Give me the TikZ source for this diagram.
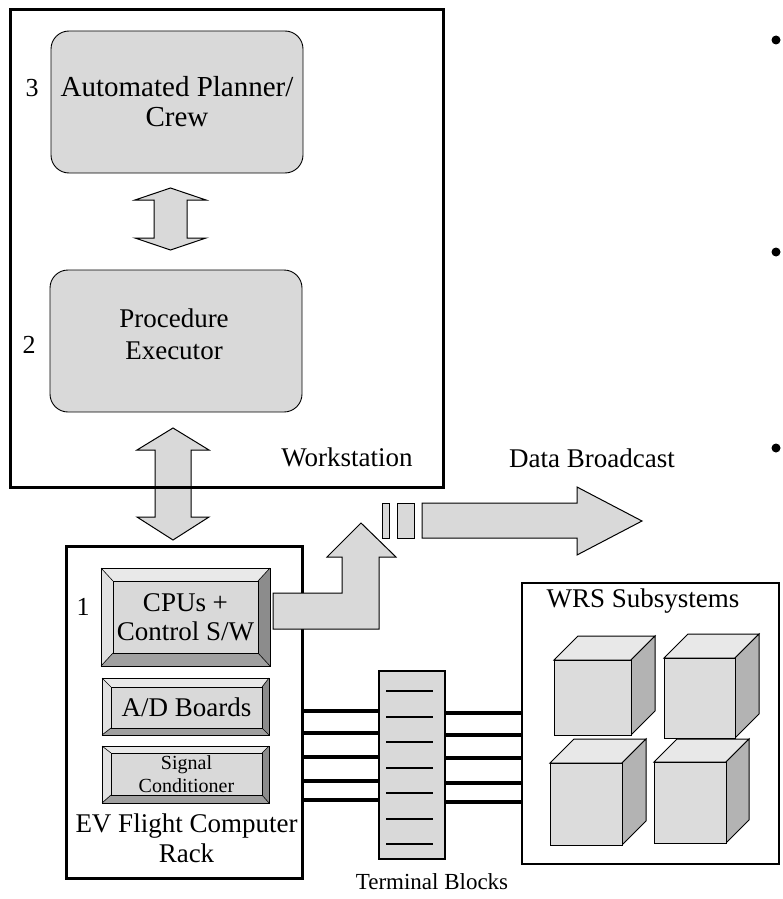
\documentclass[tikz,border=0pt]{standalone}
\usepackage{fontspec}
\setmainfont{Liberation Serif}
\definecolor{boxgray}{HTML}{D9D9D9}
\definecolor{bvtop}{HTML}{E9E9E9}
\definecolor{bvleft}{HTML}{E2E2E2}
\definecolor{bvright}{HTML}{8C8C8C}
\definecolor{bvbot}{HTML}{A0A0A0}
\definecolor{cubefront}{HTML}{DCDCDC}
\definecolor{cubetop}{HTML}{E8E8E8}
\definecolor{cubeside}{HTML}{B3B3B3}
\newcommand{\bevelbox}[8]{%
  \fill[bvtop] (#1,#2)--(#3,#2)--(#7,#6)--(#5,#6)--cycle;
  \fill[bvleft] (#1,#2)--(#5,#6)--(#5,#8)--(#1,#4)--cycle;
  \fill[bvright] (#3,#2)--(#3,#4)--(#7,#8)--(#7,#6)--cycle;
  \fill[bvbot] (#1,#4)--(#3,#4)--(#7,#8)--(#5,#8)--cycle;
  \fill[boxgray] (#5,#6) rectangle (#7,#8);
  \draw[line width=1pt] (#1,#2) rectangle (#3,#4);
  \draw[line width=1pt] (#5,#6) rectangle (#7,#8);
  \draw[line width=0.6pt] (#1,#2)--(#5,#6) (#3,#2)--(#7,#6) (#1,#4)--(#5,#8) (#3,#4)--(#7,#8);
}
\newcommand{\cube}[5]{% x1 y1 x2 y2 d
  \filldraw[fill=cubetop,line width=1pt] (#1,#2)--++(#5,-#5)--(#3+#5,#2-#5)--(#3,#2)--cycle;
  \filldraw[fill=cubeside,line width=1pt] (#3,#2)--(#3+#5,#2-#5)--(#3+#5,#4-#5)--(#3,#4)--cycle;
  \filldraw[fill=cubefront,line width=1pt] (#1,#2) rectangle (#3,#4);
}
\begin{document}
\begin{tikzpicture}[x=1pt,y=-1pt,
  lbl/.style={font=\fontsize{27}{30}\selectfont, align=center, inner sep=0},
  numlbl/.style={font=\fontsize{26}{28}\selectfont, inner sep=0},
  frame/.style={draw, line width=3pt, outer sep=0, inner sep=0},
  thinframe/.style={draw, line width=1.2pt, outer sep=0, inner sep=0},
  softbox/.style={draw, fill=boxgray, rounded corners=18pt, line width=0.9pt, outer sep=0, inner sep=0},
  blockarrow/.style={draw, fill=boxgray, line width=1pt, line join=miter},
  wire/.style={line width=4.6pt},
  tbline/.style={line width=1.3pt},
  facenode/.style={inner sep=0, outer sep=0}]
\useasboundingbox (0,0) rectangle (782,899);

% Workstation contents
\node[softbox, minimum width=252pt, minimum height=142pt] (plan) at (177,102) {};
\node[lbl, font=\fontsize{29}{30}\selectfont] (plantxt) at (177,102) {Automated Planner/\\Crew};
\node[numlbl] (n3) at (32,88) {3};
\node[softbox, minimum width=252pt, minimum height=142pt] (proc) at (176,341) {};
\node[lbl, font=\fontsize{27}{32}\selectfont] (proctxt) at (174,334) {Procedure\\Executor};
\node[numlbl] (n2) at (29,345) {2};

% double arrow planner <-> executor
\path[blockarrow] (154,200)--(135,200)--(170.5,188)--(206,200)--(187,200)--(187,238)--(206,238)--(170.5,250)--(135,238)--(154,238)--cycle;
% double arrow workstation <-> rack
\path[blockarrow] (155,450)--(137,450)--(173,428)--(209,450)--(191,450)--(191,517)--(209,517)--(173,540)--(137,517)--(155,517)--cycle;

\node[frame, minimum width=433pt, minimum height=477pt] (ws) at (226.5,248.5) {};
\node[lbl] (wstxt) at (347,457) {Workstation};

% Rack
\node[frame, minimum width=236pt, minimum height=332pt] (rack) at (184,712) {};
\bevelbox{101}{568}{270}{666}{113}{581}{258}{653}
\node[facenode, minimum width=145pt, minimum height=72pt] (cpu) at (185.5,617) {};
\node[lbl, font=\fontsize{27}{29}\selectfont] (cputxt) at (cpu) {CPUs +\\Control S/W};
\node[numlbl] (n1) at (83,607) {1};
\bevelbox{102}{678}{269}{735}{111}{687}{262}{728}
\node[facenode, minimum width=151pt, minimum height=41pt] (ad) at (186.5,707.5) {};
\node[lbl] (adtxt) at (ad) {A/D Boards};
\bevelbox{102}{746}{269}{803}{111}{753}{262}{795}
\node[facenode, minimum width=151pt, minimum height=42pt] (sig) at (186.5,774) {};
\node[lbl, font=\fontsize{20}{23}\selectfont] (sigtxt) at (sig) {Signal\\Conditioner};
\node[lbl] (racktxt) at (186.5,838) {EV Flight Computer\\Rack};

% bent arrow from CPU upward
\path[blockarrow] (273,593)--(342,593)--(342,557)--(327,557)--(361,523)--(396,557)--(379,557)--(379,629)--(273,629)--cycle;

% Data broadcast
\node[facenode, draw, fill=boxgray, line width=1pt, minimum width=7pt, minimum height=35pt] (bar1) at (385.5,520.5) {};
\node[facenode, draw, fill=boxgray, line width=1pt, minimum width=17pt, minimum height=35pt] (bar2) at (405.5,520.5) {};
\path[blockarrow] (422,503)--(577,503)--(577,487)--(642,521)--(577,555)--(577,538)--(422,538)--cycle;
\node[lbl] (dbtxt) at (592,458) {Data Broadcast};

% Terminal blocks
\node[facenode, draw, fill=boxgray, line width=1.2pt, minimum width=66pt, minimum height=188pt] (tb) at (412,765) {};
\foreach \yy in {691,717,742,768,793,819,844}
  \draw[tbline] (386,\yy) -- (433,\yy);
\node[lbl, font=\fontsize{23}{26}\selectfont] (tbtxt) at (432,882) {Terminal Blocks};

% WRS subsystems
\node[thinframe, minimum width=257pt, minimum height=281pt] (wrs) at (650.5,723.5) {};
\node[lbl] (wrstxt) at (643,601) {WRS Subsystems};
\cube{554}{660}{631}{735}{24}
\cube{664}{658}{735}{738}{24}
\cube{550}{763}{622}{845}{24}
\cube{654}{762}{726}{843}{23}

% wires
\foreach \yy in {711,733,757,781,800}
  \draw[wire] (rack.east |- 0,\yy) -- (tb.west |- 0,\yy);
\foreach \yy in {713,735,758,783,802}
  \draw[wire] (tb.east |- 0,\yy) -- (wrs.west |- 0,\yy);

% bullets
\foreach \yy/\nm in {40/b1,252/b2,448/b3}
  \fill (776,\yy) circle (4.5pt) coordinate (\nm);
\end{tikzpicture}
\end{document}
